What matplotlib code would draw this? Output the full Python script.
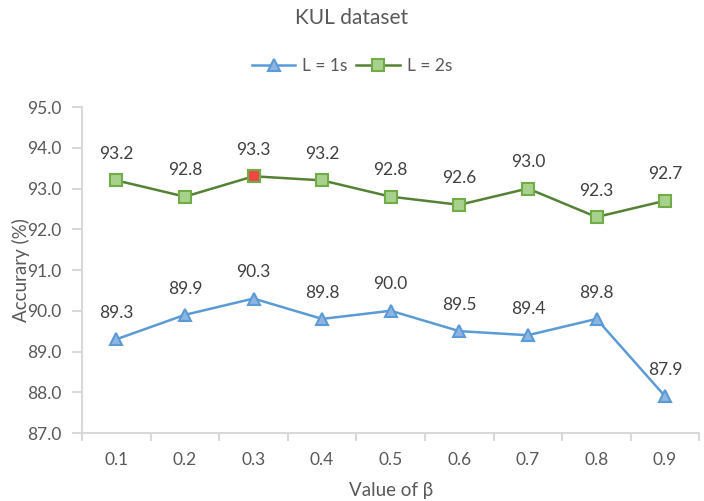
import numpy as np
import matplotlib
matplotlib.use("Agg")
import matplotlib.pyplot as plt

plt.rcParams['font.family'] = ['Lato', 'DejaVu Sans']

# data
betas = ['0.1', '0.2', '0.3', '0.4', '0.5', '0.6', '0.7', '0.8', '0.9']
acc_1s = [89.3, 89.9, 90.3, 89.8, 90.0, 89.5, 89.4, 89.8, 87.9]
acc_2s = [93.2, 92.8, 93.3, 93.2, 92.8, 92.6, 93.0, 92.3, 92.7]
best_idx = 2  # highlighted point on L = 2s

txt = '#595959'
grid_c = '#D9D9D9'

fig = plt.figure(figsize=(7.04, 5.01), dpi=100)
ax = fig.add_axes([0.1165, 0.1357, 0.877, 0.6507])

x = np.arange(len(betas))
ax.plot(x, acc_1s, color='#5B9BD5', lw=1.8, marker='^', ms=8,
        mfc='#8DB4E2', mec='#5B9BD5', mew=1.5, label='L = 1s', zorder=3)
ax.plot(x, acc_2s, color='#548235', lw=1.8, marker='s', ms=8,
        mfc='#A9D18E', mec='#70AD47', mew=1.5, label='L = 2s', zorder=3)
ax.plot(x[best_idx], acc_2s[best_idx], ls='none', marker='s', ms=8,
        mfc='#F04545', mec='#70AD47', mew=1.5, zorder=4)

for xi, v in zip(x, acc_1s):
    ax.text(xi, v + 0.45, f'{v:.1f}', ha='center', va='bottom', fontsize=12.5, color='#404040')
for xi, v in zip(x, acc_2s):
    ax.text(xi, v + 0.45, f'{v:.1f}', ha='center', va='bottom', fontsize=12.5, color='#404040')

ax.set_xlim(-0.5, len(betas) - 0.5)
ax.set_ylim(87.0, 95.0)
ax.set_yticks(np.arange(87.0, 95.01, 1.0))
ax.set_yticklabels([f'{v:.1f}' for v in np.arange(87.0, 95.01, 1.0)])
ax.set_xticks(x)
ax.set_xticklabels(betas)
ax.set_xticks(np.arange(-0.5, len(betas), 1.0), minor=True)

for s in ['top', 'right']:
    ax.spines[s].set_visible(False)
ax.spines['left'].set_color(grid_c)
ax.spines['bottom'].set_color(grid_c)
ax.spines['left'].set_linewidth(1.5)
ax.spines['bottom'].set_linewidth(1.5)

ax.tick_params(axis='y', which='major', direction='out', length=7, width=1.5,
               color=grid_c, labelcolor=txt, labelsize=12.5, pad=8)
ax.tick_params(axis='x', which='major', length=0, labelcolor=txt, labelsize=12.5, pad=14)
ax.tick_params(axis='x', which='minor', direction='out', length=6, width=1.5, color=grid_c)

ax.set_xlabel('Value of β', fontsize=13.5, color=txt, labelpad=10)
ax.set_ylabel('Accurary (%)', fontsize=13.5, color=txt)
ax.yaxis.set_label_coords(-0.085, 0.5)

fig.text(0.5, 0.965, 'KUL dataset', ha='center', va='center', fontsize=15, color=txt)
fig.legend(loc='center', bbox_to_anchor=(0.5, 0.868), ncol=2, frameon=False,
           fontsize=12.5, labelcolor=txt, handlelength=2.5, columnspacing=0.5,
           handletextpad=0.4)

fig.savefig('out.png', dpi=100)
